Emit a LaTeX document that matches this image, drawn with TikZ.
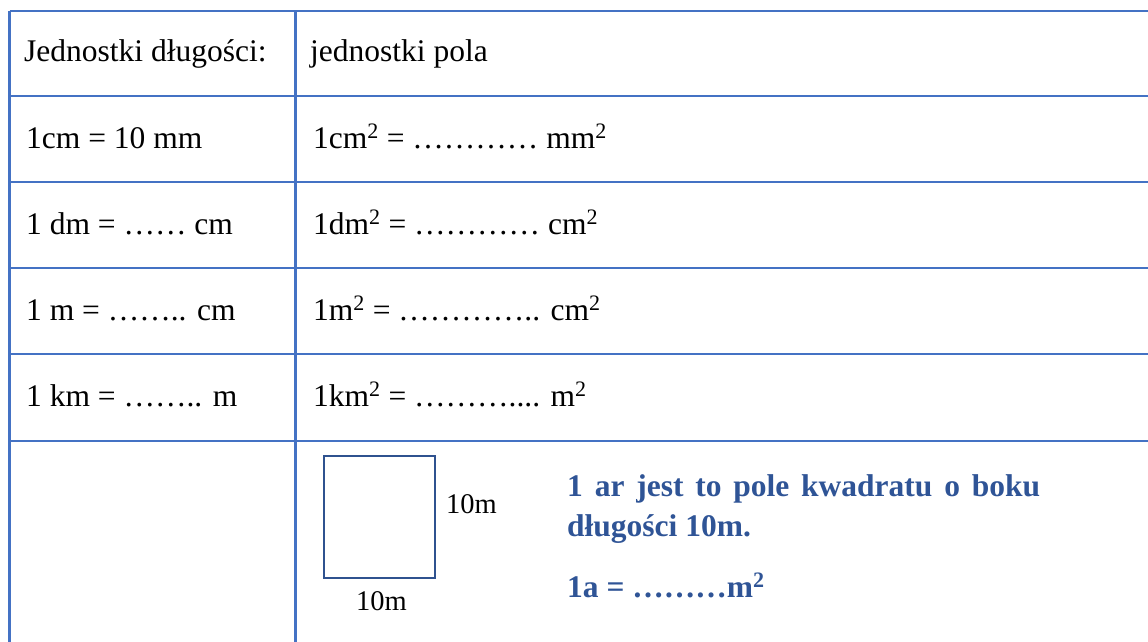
\documentclass[tikz,border=0pt]{standalone}
\usepackage{fontspec}
\setmainfont{Liberation Serif}
\definecolor{gridblue}{HTML}{4472C4}
\definecolor{textblue}{HTML}{2F5496}
\definecolor{sqblue}{HTML}{2F528F}
\tikzset{
  cell/.style={anchor=base west, inner sep=0pt, font=\fontsize{31.5}{37}\selectfont},
  lbl/.style={anchor=base west, inner sep=0pt, font=\fontsize{28.5}{34}\selectfont},
  note/.style={anchor=base west, inner sep=0pt, text=textblue, font=\fontsize{31.5}{40}\selectfont\bfseries},
  gridline/.style={draw=gridblue, line width=2.7pt},
  sq/.style={draw=sqblue, line width=1.6pt}
}
\newcommand{\sqr}{\textsuperscript{2}}
\begin{document}
\begin{tikzpicture}[x=1pt,y=-1pt]
\useasboundingbox (0,0) rectangle (1148,642);
% grid
\foreach \yy in {11,96,182,268,354,441}
  \draw[gridline] (9.5,\yy) -- (1160,\yy);
\draw[gridline] (9.5,11) -- (9.5,660);
\draw[gridline] (295.5,11) -- (295.5,660);
% left column
\node[cell] (l1) at (24,62) {Jednostki długości:};
\node[cell] (l2) at (26,148) {1cm = 10 mm};
\node[cell] (l3) at (26,234) {1 dm = …… cm};
\node[cell] (l4) at (26,320) {1 m = …….. cm};
\node[cell] (l5) at (26,406) {1 km = …….. m};
% right column
\node[cell] (r1) at (310,62) {jednostki pola};
\node[cell] (r2) at (313,148) {1cm\sqr{} = ………… mm\sqr};
\node[cell] (r3) at (313,234) {1dm\sqr{} = ………… cm\sqr};
\node[cell] (r4) at (313,320) {1m\sqr{} = ………….. cm\sqr};
\node[cell] (r5) at (313,406) {1km\sqr{} = ……….... m\sqr};
% square
\draw[sq] (324,456) rectangle (435,578);
\node[lbl] (side) at (446,513) {10m};
\node[lbl] (base) at (356,610) {10m};
% note
\node[note] (n1) at (567,496) {\makebox[473pt][s]{1 ar jest to pole kwadratu o boku}};
\node[note] (n2) at (567,536) {długości 10m.};
\node[note] (n3) at (567,597) {1a = ………m\sqr};
\end{tikzpicture}
\end{document}
